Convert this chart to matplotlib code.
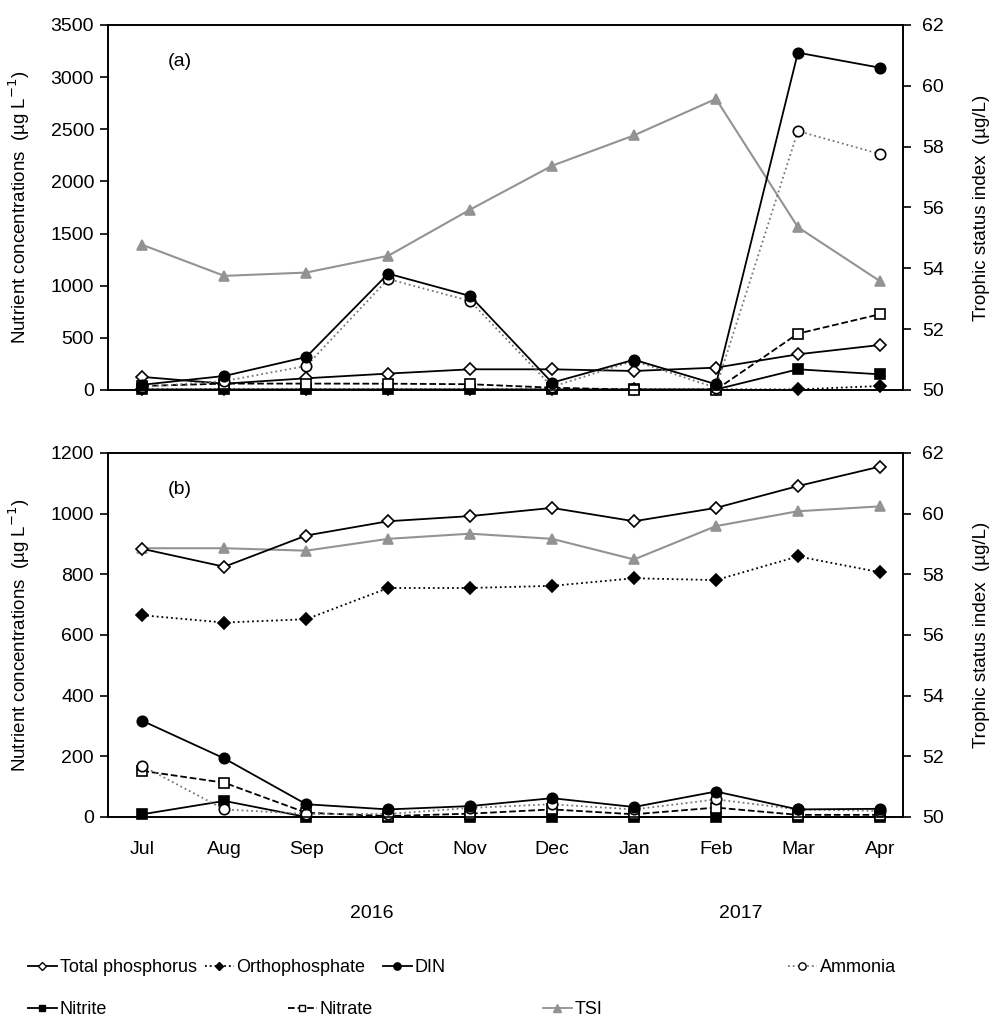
import matplotlib
matplotlib.use("Agg")
import matplotlib.pyplot as plt
from matplotlib.lines import Line2D
import numpy as np

plt.rcParams['font.family'] = ['Liberation Sans', 'DejaVu Sans']

months = ["Jul", "Aug", "Sep", "Oct", "Nov", "Dec", "Jan", "Feb", "Mar", "Apr"]
years = ["2016", "2017"]

# Panel (a)
a_tp = [125, 60, 112, 157, 198, 198, 182, 214, 342, 431]
a_ortho = [5, 5, 5, 5, 5, 5, 5, 5, 5, 38]
a_din = [50, 134, 316, 1115, 901, 70, 290, 55, 3234, 3090]
a_ammonia = [30, 85, 230, 1064, 853, 30, 280, 20, 2483, 2262]
a_nitrite = [5, 5, 5, 5, 5, 5, 5, 5, 198, 150]
a_nitrate = [38, 61, 61, 60, 55, 22, 2, 2, 540, 726]
a_tsi = [54.77, 53.75, 53.86, 54.41, 55.93, 57.37, 58.37, 59.57, 55.35, 53.58]

# Panel (b)
b_tp = [884, 825, 928, 975, 992, 1019, 975, 1019, 1091, 1155]
b_ortho = [665, 641, 652, 755, 755, 762, 787, 781, 859, 807]
b_din = [317, 193, 42, 25, 36, 62, 33, 84, 25, 27]
b_ammonia = [168, 25, 10, 10, 30, 42, 25, 58, 25, 20]
b_nitrite = [9, 53, 0, 0, 0, 0, 0, 0, 0, 0]
b_nitrate = [152, 113, 14, 3, 11, 25, 9, 31, 7, 7]
b_tsi = [58.86, 58.86, 58.78, 59.17, 59.34, 59.17, 58.49, 59.59, 60.08, 60.24]

GRAY = "#939393"
FS = 14
LFS = 13.5

styles = {
    "Total phosphorus": dict(color="black", ls="-", marker="D", mfc="white", mec="black", ms=6),
    "Orthophosphate": dict(color="black", ls=":", marker="D", mfc="black", mec="black", ms=6),
    "DIN": dict(color="black", ls="-", marker="o", mfc="black", mec="black", ms=7.5),
    "Ammonia": dict(color="#777777", ls=":", marker="o", mfc="white", mec="black", ms=7.5),
    "Nitrite": dict(color="black", ls="-", marker="s", mfc="black", mec="black", ms=7),
    "Nitrate": dict(color="black", ls="--", marker="s", mfc="white", mec="black", ms=7),
    "TSI": dict(color=GRAY, ls="-", marker="^", mfc=GRAY, mec=GRAY, ms=7.5),
}

fig = plt.figure(figsize=(9.96, 10.30), dpi=100)
L, W = 0.1084, 0.798
ax_a = fig.add_axes([L, 0.6214, W, 0.3544])
ax_b = fig.add_axes([L, 0.2068, W, 0.3534])

x = np.arange(len(months))

def draw(ax, tp, ortho, din, amm, nitrite, nitrate, tsi, ymax, ystep, label, show_x):
    axr = ax.twinx()
    axr.plot(x, tsi, lw=1.5, mew=1.2, zorder=1, **styles["TSI"])
    axr.set_ylim(50, 62)
    axr.set_yticks(np.arange(50, 63, 2))
    ax.set_zorder(axr.get_zorder() + 1)
    ax.patch.set_visible(False)
    series = [("Total phosphorus", tp), ("Orthophosphate", ortho), ("Nitrite", nitrite),
              ("Nitrate", nitrate), ("Ammonia", amm), ("DIN", din)]
    for name, vals in series:
        ax.plot(x, vals, lw=1.3, mew=1.2, clip_on=False, **styles[name])
    ax.set_ylim(0, ymax)
    ax.set_yticks(np.arange(0, ymax + 1, ystep))
    ax.set_xlim(-0.42, 9.28)
    ax.set_xticks(x)
    ax.set_xticklabels(months if show_x else [])
    ax.tick_params(axis="x", length=0, labelsize=FS, pad=17)
    ax.tick_params(axis="y", direction="out", length=6, width=1.2, labelsize=FS, pad=4)
    axr.tick_params(axis="y", direction="out", length=6, width=1.2, labelsize=FS, pad=8)
    for a in (ax, axr):
        for s in a.spines.values():
            s.set_linewidth(1.2)
    ax.set_ylabel("Nutrient concentrations  (µg L$^{-1}$)", fontsize=LFS)
    ax.yaxis.set_label_coords(-0.095, 0.5)
    axr.set_ylabel("Trophic status index  (µg/L)", fontsize=LFS)
    axr.yaxis.set_label_coords(1.088, 0.5)
    ax.text(0.075, 0.90, label, transform=ax.transAxes, fontsize=FS, va="center")
    return axr

draw(ax_a, a_tp, a_ortho, a_din, a_ammonia, a_nitrite, a_nitrate, a_tsi, 3500, 500, "(a)", False)
draw(ax_b, b_tp, b_ortho, b_din, b_ammonia, b_nitrite, b_nitrate, b_tsi, 1200, 200, "(b)", True)

# Year labels
for xi, yr in zip([2.8, 7.3], years):
    ax_b.text(xi, -0.265, yr, transform=ax_b.get_xaxis_transform(), ha="center", va="center", fontsize=FS)

# Legend entries placed like the Excel legend
def handle(name):
    st = dict(styles[name])
    st["ms"] = st["ms"] * 0.7
    return Line2D([], [], lw=1.3, **st)

entries = [("Total phosphorus", 28, 968), ("Orthophosphate", 205, 968), ("DIN", 383, 968),
           ("Ammonia", 788, 968), ("Nitrite", 28, 1010), ("Nitrate", 288, 1010), ("TSI", 543, 1010)]
for name, px, py in entries:
    fig.legend([handle(name)], [name], loc="center left",
               bbox_to_anchor=(px / 996, 1 - py / 1030), frameon=False, fontsize=13,
               handlelength=1.6, handletextpad=0.15, borderaxespad=0, borderpad=0)

fig.savefig("out.png", dpi=100)
